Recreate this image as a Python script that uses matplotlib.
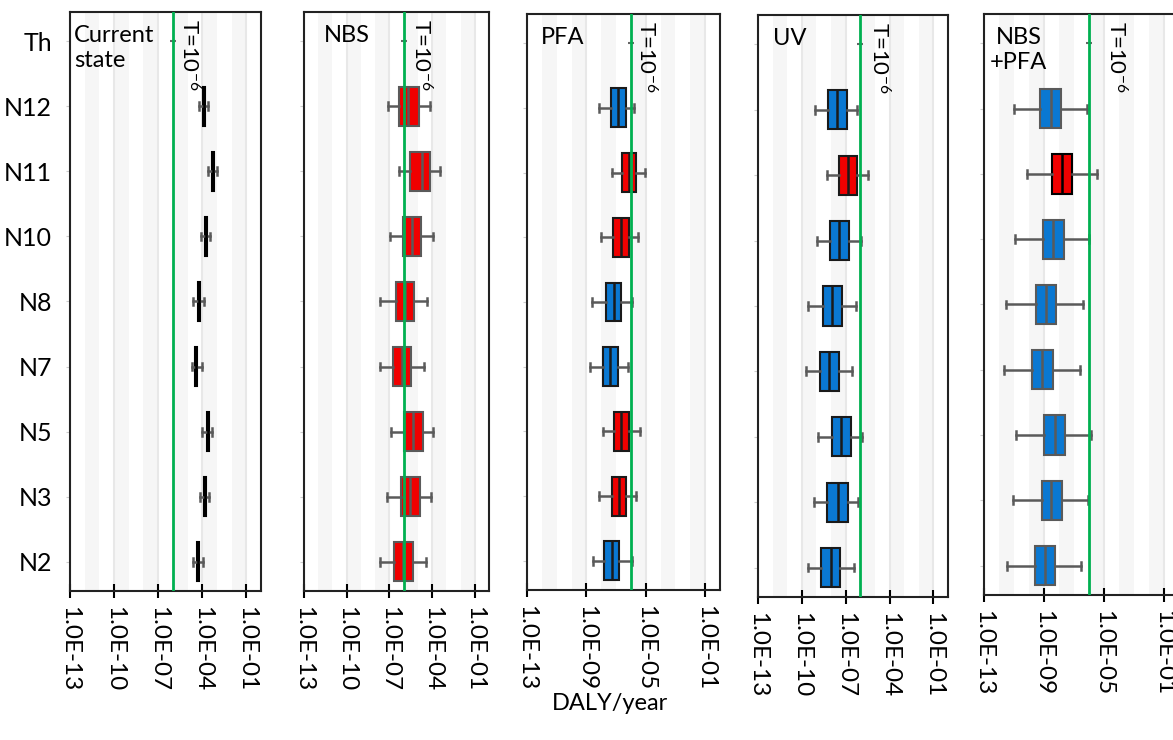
import numpy as np
import matplotlib.pyplot as plt
from matplotlib.ticker import NullLocator
from matplotlib.transforms import blended_transform_factory

plt.rcParams['font.family'] = ['Lato', 'DejaVu Sans']
plt.rcParams['mathtext.fontset'] = 'custom'
plt.rcParams['mathtext.rm'] = 'Lato'
plt.rcParams['mathtext.it'] = 'Lato:italic'
plt.rcParams['mathtext.bf'] = 'Lato:bold'

# row labels, top to bottom
rows = ['N12', 'N11', 'N10', 'N8', 'N7', 'N5', 'N3', 'N2']
ylabels = ['Th'] + rows
threshold = 1e-6

# log10(DALY/year) per row: whisker low, q1, median, q3, whisker high
current = [[-4.25, -3.96, -3.88, -3.80, -3.62],
           [-3.62, -3.35, -3.27, -3.19, -3.02],
           [-4.10, -3.82, -3.74, -3.66, -3.48],
           [-4.65, -4.30, -4.22, -4.14, -3.88],
           [-4.70, -4.50, -4.42, -4.34, -4.02],
           [-4.00, -3.68, -3.60, -3.52, -3.32],
           [-4.15, -3.88, -3.80, -3.72, -3.55],
           [-4.65, -4.36, -4.28, -4.20, -3.92]]
nbs = [[-7.07, -6.30, -5.66, -4.95, -4.18],
       [-6.30, -5.52, -4.74, -4.18, -3.47],
       [-6.93, -6.01, -5.38, -4.81, -3.90],
       [-7.64, -6.51, -5.87, -5.24, -4.39],
       [-7.64, -6.72, -6.08, -5.45, -4.60],
       [-6.86, -5.94, -5.31, -4.67, -3.90],
       [-7.14, -6.15, -5.52, -4.88, -4.11],
       [-7.64, -6.65, -6.01, -5.31, -4.46]]
pfa = [[-8.17, -7.37, -6.90, -6.36, -5.76],
       [-7.30, -6.63, -6.10, -5.63, -5.02],
       [-8.04, -7.24, -6.70, -6.16, -5.49],
       [-8.64, -7.71, -7.17, -6.70, -5.90],
       [-8.78, -7.91, -7.44, -6.90, -6.23],
       [-7.91, -7.17, -6.70, -6.16, -5.36],
       [-8.17, -7.30, -6.83, -6.30, -5.63],
       [-8.58, -7.84, -7.30, -6.77, -5.96]]
uv = [[-9.11, -8.23, -7.61, -6.93, -6.25],
      [-8.30, -7.48, -6.87, -6.25, -5.50],
      [-8.98, -8.09, -7.48, -6.80, -5.98],
      [-9.59, -8.57, -7.96, -7.27, -6.32],
      [-9.73, -8.77, -8.16, -7.48, -6.59],
      [-8.91, -7.96, -7.34, -6.66, -5.91],
      [-9.18, -8.30, -7.55, -6.87, -6.18],
      [-9.59, -8.71, -8.02, -7.41, -6.46]]
nbs_pfa = [[-11.00, -9.27, -8.53, -7.87, -6.13],
           [-10.13, -8.47, -7.80, -7.13, -5.47],
           [-10.93, -9.07, -8.40, -7.67, -6.00],
           [-11.53, -9.53, -8.87, -8.20, -6.40],
           [-11.67, -9.80, -9.13, -8.40, -6.60],
           [-10.87, -9.00, -8.27, -7.60, -5.87],
           [-11.07, -9.13, -8.53, -7.80, -6.07],
           [-11.47, -9.60, -8.93, -8.27, -6.53]]

RED = '#f00000'
BLUE = '#0a78d2'
cur_colors = ['black'] * 8
nbs_colors = [RED] * 8
pfa_colors = [BLUE, RED, RED, BLUE, BLUE, RED, RED, BLUE]
uv_colors = [BLUE, RED, BLUE, BLUE, BLUE, BLUE, BLUE, BLUE]
nbs_pfa_colors = [BLUE, RED, BLUE, BLUE, BLUE, BLUE, BLUE, BLUE]

panel_names = ['Current\nstate', 'NBS', 'PFA', 'UV', 'NBS\n+PFA']
panel_data = [current, nbs, pfa, uv, nbs_pfa]
panel_colors = [cur_colors, nbs_colors, pfa_colors, uv_colors, nbs_pfa_colors]
edge_colors = ['black', '#5a5a5a', '#1a1a1a', '#1a1a1a', '#5a5a5a']

ticks3 = [1e-13, 1e-10, 1e-7, 1e-4, 1e-1]
ticks4 = [1e-13, 1e-9, 1e-5, 1e-1]
panel_ticks = [ticks3, ticks3, ticks4, ticks3, ticks4]

# axes boxes in pixels: left, right, top, bottom
W, H = 1173, 740
boxes = [(70, 261, 12, 591), (304, 489, 12, 591), (527, 720, 14, 590),
         (758, 948, 15, 597), (984, 1179, 14, 595)]
tlabel_x = [-4.9, -4.75, -4.95, -4.7, -4.2]
name_x = [0.02, 0.11, 0.07, 0.08, 0.03]

fig = plt.figure(figsize=(W / 100, H / 100), dpi=100)

for i in range(5):
    l, r, t, b = boxes[i]
    ax = fig.add_axes([l / W, 1 - b / H, (r - l) / W, (b - t) / H])
    ax.set_xscale('log')

    # light decade stripes in the background
    for e in range(-12, 0, 2):
        ax.axvspan(10.0 ** e, 10.0 ** (e + 1), color='#f6f6f6', lw=0, zorder=0)
    ax.grid(axis='x', which='major', color='#e8e8e8', lw=1.5, zorder=0)
    ax.set_axisbelow(True)

    stats = []
    for name, v in zip(rows, panel_data[i]):
        stats.append(dict(label=name, whislo=10 ** v[0], q1=10 ** v[1], med=10 ** v[2],
                          q3=10 ** v[3], whishi=10 ** v[4]))
    positions = np.arange(len(rows))[::-1]
    ec = edge_colors[i]
    bp = ax.bxp(stats, positions=positions, orientation='horizontal', widths=0.6,
                patch_artist=True, showfliers=False, capwidths=0.12,
                boxprops=dict(edgecolor=ec, linewidth=1.5),
                medianprops=dict(color=ec, linewidth=1.8),
                whiskerprops=dict(color='#5a5a5a', linewidth=1.8),
                capprops=dict(color='#5a5a5a', linewidth=1.8))
    for patch, c in zip(bp['boxes'], panel_colors[i]):
        patch.set_facecolor(c)
    if i == 4:
        bp['boxes'][1].set_edgecolor('black')
        bp['medians'][1].set_color('black')

    # threshold row and line
    ax.plot([threshold], [8], marker='_', color='#666666', ms=4, mew=1.5)
    ax.axvline(threshold, color='#00b050', lw=2, zorder=5)
    trans = blended_transform_factory(ax.transData, ax.transAxes)
    ax.text(10 ** tlabel_x[i], 0.988, r'T=10$^{\mathrm{-6}}$', transform=trans, rotation=-90,
            ha='center', va='top', fontsize=16)
    ax.text(name_x[i], 0.978, panel_names[i], transform=ax.transAxes, ha='left', va='top',
            fontsize=17, linespacing=1.25, multialignment='center' if i == 4 else 'left')

    ax.set_xlim(1e-13, 1e0)
    ax.set_ylim(-0.45, 8.45)
    ax.set_xticks(panel_ticks[i])
    ax.set_xticklabels(['{:.1E}'.format(x) for x in panel_ticks[i]], rotation=-90, fontsize=17.5)
    ax.xaxis.set_minor_locator(NullLocator())
    ax.tick_params(axis='x', direction='inout', length=10, width=1.5, pad=6, colors='black')
    ax.set_yticks(np.arange(len(ylabels))[::-1])
    ax.set_yticklabels(ylabels)
    ax.tick_params(axis='y', length=3, color='#cccccc', pad=10, labelsize=18,
                   labelleft=(i == 0))
    for s in ax.spines.values():
        s.set_linewidth(1.5)
        s.set_color('#222222')

fig.text(610 / W, 1 - 703 / H, 'DALY/year', ha='center', va='center', fontsize=17)
fig.savefig('out.png', dpi=100)
